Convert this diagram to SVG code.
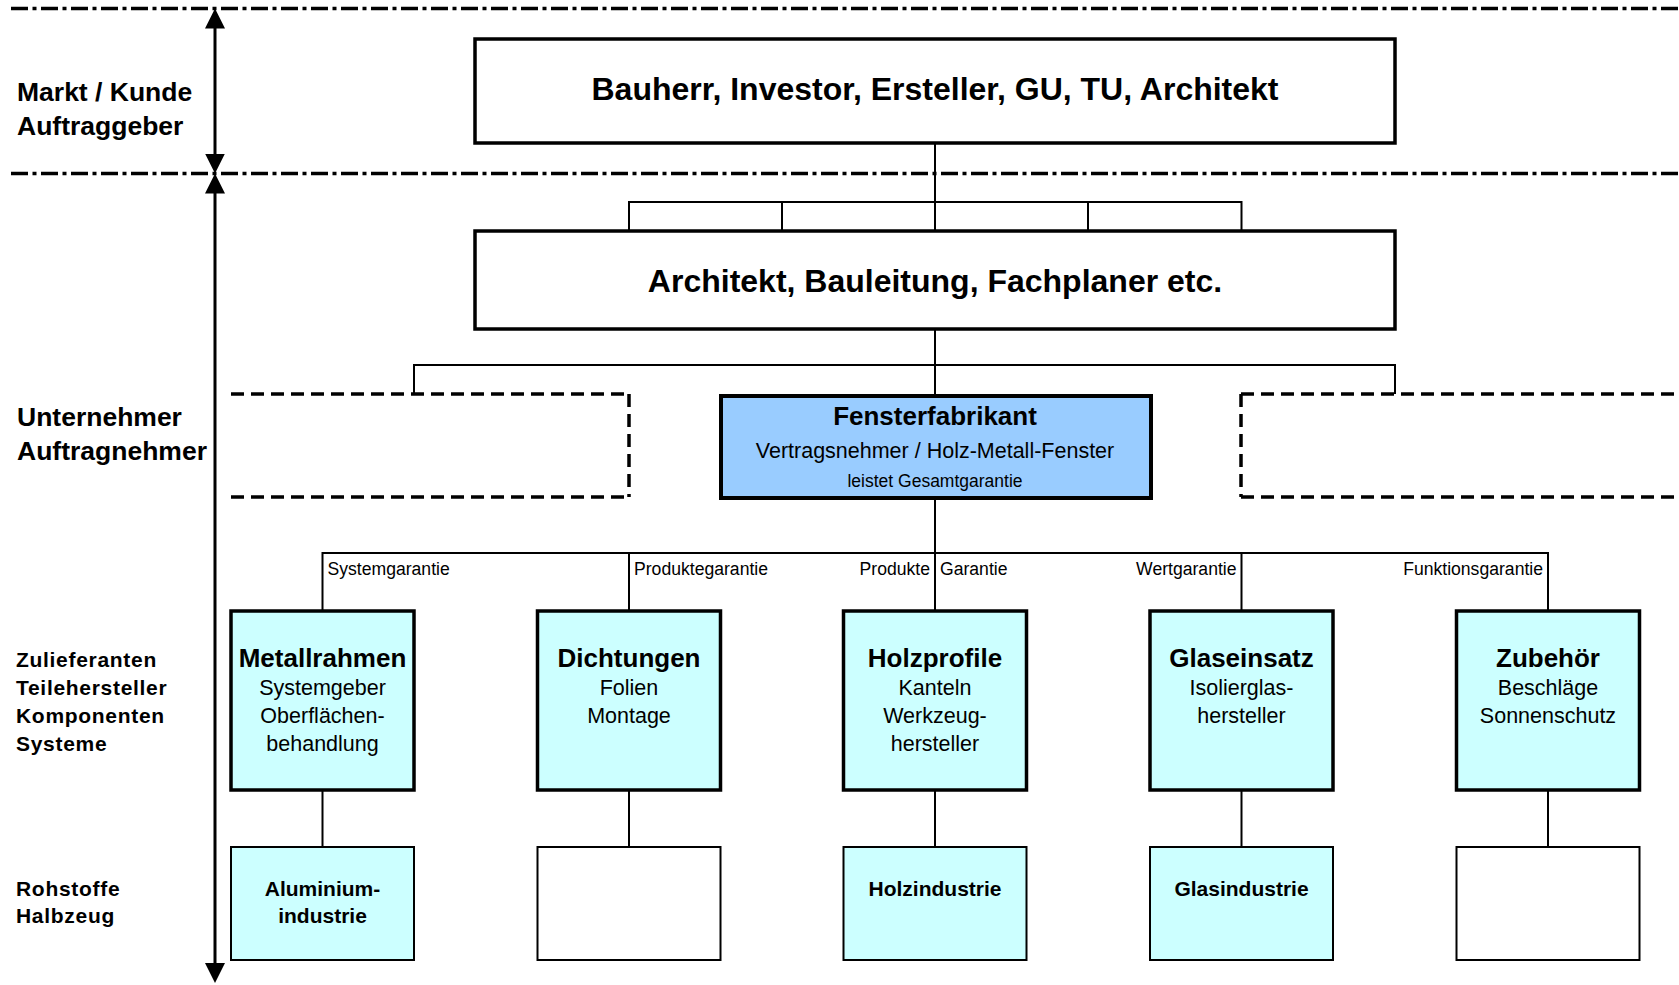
<svg xmlns="http://www.w3.org/2000/svg" width="1679" height="985" viewBox="0 0 1679 985">
<style>
text{font-family:"Liberation Sans",Arial,sans-serif;fill:#000}
.big{font-size:32px;font-weight:bold;text-anchor:middle}
.side{font-size:26.5px;font-weight:bold}
.side2{font-size:21px;font-weight:bold;letter-spacing:0.7px}
.ttl{font-size:26px;font-weight:bold;text-anchor:middle}
.sub{font-size:21.5px;text-anchor:middle}
.raw{font-size:21px;font-weight:bold;text-anchor:middle}
.lbl{font-size:17.6px}
.end{text-anchor:end}
.box{fill:#fff;stroke:#000;stroke-width:3.5}
.fab{fill:#99CCFF;stroke:#000;stroke-width:4}
.sup{fill:#CCFFFF;stroke:#000;stroke-width:3.5}
.rawc{fill:#CCFFFF;stroke:#000;stroke-width:2}
.raww{fill:#fff;stroke:#000;stroke-width:2}
.dashbox{fill:none;stroke:#000;stroke-width:3.5;stroke-dasharray:13 7}
.dashdot{fill:none;stroke:#000;stroke-width:3.5;stroke-dasharray:17 4.5 4 4.5}
.conn{fill:none;stroke:#000;stroke-width:2}
.axis{fill:none;stroke:#000;stroke-width:3;marker-start:url(#ah);marker-end:url(#ah)}
</style>
<defs>
<marker id="ah" markerUnits="userSpaceOnUse" markerWidth="20" markerHeight="20" refX="10" refY="10" orient="auto-start-reverse" viewBox="0 0 20 20">
<path d="M0,0 L20,10 L0,20 Z" fill="#000"/>
</marker>
</defs>
<rect width="1679" height="985" fill="#fff"/>

<g id="separators">
<line class="dashdot" x1="11" y1="8.5" x2="1679" y2="8.5"/>
<line class="dashdot" x1="11" y1="173.5" x2="1679" y2="173.5"/>
</g>

<g id="axis">
<line class="axis" x1="215" y1="18.5" x2="215" y2="163.5"/>
<line class="axis" x1="215" y1="183.5" x2="215" y2="973"/>
</g>

<g id="side-labels">
<text class="side" x="17" y="101">Markt / Kunde</text>
<text class="side" x="17" y="135">Auftraggeber</text>
<text class="side" x="17" y="426">Unternehmer</text>
<text class="side" x="17" y="460">Auftragnehmer</text>
<text class="side2" x="16" y="667">Zulieferanten</text>
<text class="side2" x="16" y="695">Teilehersteller</text>
<text class="side2" x="16" y="723">Komponenten</text>
<text class="side2" x="16" y="751">Systeme</text>
<text class="side2" x="16" y="896">Rohstoffe</text>
<text class="side2" x="16" y="923">Halbzeug</text>
</g>

<g id="connectors">
<path class="conn" d="M935,143 V231 M629,231 V202 H1241.5 V231 M782,202 V231 M1088,202 V231"/>
<path class="conn" d="M935,329 V396 M414,394 V365 H1395 V394"/>
<path class="conn" d="M935,498 V611 M322.5,611 V553 H1548 V611 M629,553 V611 M1241.5,553 V611"/>
<path class="conn" d="M322.5,790 V847 M629,790 V847 M935,790 V847 M1241.5,790 V847 M1548,790 V847"/>
<text class="lbl" x="327.5" y="575">Systemgarantie</text>
<text class="lbl" x="634" y="575">Produktegarantie</text>
<text class="lbl end" x="930" y="575">Produkte</text>
<text class="lbl" x="940" y="575">Garantie</text>
<text class="lbl end" x="1236.5" y="575">Wertgarantie</text>
<text class="lbl end" x="1543" y="575">Funktionsgarantie</text>
</g>

<g id="bauherr">
<rect class="box" x="475" y="39" width="920" height="104"/>
<text class="big" x="935" y="100">Bauherr, Investor, Ersteller, GU, TU, Architekt</text>
</g>

<g id="architekt">
<rect class="box" x="475" y="231" width="920" height="98"/>
<text class="big" x="935" y="292">Architekt, Bauleitung, Fachplaner etc.</text>
</g>

<g id="unternehmer-links">
<path class="dashbox" d="M231,394 H629"/>
<path class="dashbox" d="M629,394 V497"/>
<path class="dashbox" d="M231,497 H629"/>
</g>

<g id="unternehmer-rechts">
<path class="dashbox" d="M1241,394 H1679"/>
<path class="dashbox" d="M1241,394 V497"/>
<path class="dashbox" d="M1241,497 H1679"/>
</g>

<g id="fensterfabrikant">
<rect class="fab" x="721" y="396" width="430" height="102"/>
<text class="ttl" x="935" y="425">Fensterfabrikant</text>
<text class="sub" x="935" y="458">Vertragsnehmer / Holz-Metall-Fenster</text>
<text x="935" y="487" style="font-size:17.5px;text-anchor:middle">leistet Gesamtgarantie</text>
</g>

<g id="metallrahmen">
<rect class="sup" x="231" y="611" width="183" height="179"/>
<text class="ttl" x="322.5" y="667">Metallrahmen</text>
<text class="sub" x="322.5" y="695">Systemgeber</text>
<text class="sub" x="322.5" y="723">Oberflächen-</text>
<text class="sub" x="322.5" y="751">behandlung</text>
</g>

<g id="dichtungen">
<rect class="sup" x="537.5" y="611" width="183" height="179"/>
<text class="ttl" x="629" y="667">Dichtungen</text>
<text class="sub" x="629" y="695">Folien</text>
<text class="sub" x="629" y="723">Montage</text>
</g>

<g id="holzprofile">
<rect class="sup" x="843.5" y="611" width="183" height="179"/>
<text class="ttl" x="935" y="667">Holzprofile</text>
<text class="sub" x="935" y="695">Kanteln</text>
<text class="sub" x="935" y="723">Werkzeug-</text>
<text class="sub" x="935" y="751">hersteller</text>
</g>

<g id="glaseinsatz">
<rect class="sup" x="1150" y="611" width="183" height="179"/>
<text class="ttl" x="1241.5" y="667">Glaseinsatz</text>
<text class="sub" x="1241.5" y="695">Isolierglas-</text>
<text class="sub" x="1241.5" y="723">hersteller</text>
</g>

<g id="zubehoer">
<rect class="sup" x="1456.5" y="611" width="183" height="179"/>
<text class="ttl" x="1548" y="667">Zubehör</text>
<text class="sub" x="1548" y="695">Beschläge</text>
<text class="sub" x="1548" y="723">Sonnenschutz</text>
</g>

<g id="aluminiumindustrie">
<rect class="rawc" x="231" y="847" width="183" height="113"/>
<text class="raw" x="322.5" y="896">Aluminium-</text>
<text class="raw" x="322.5" y="923">industrie</text>
</g>

<g id="rohstoff-dichtungen">
<rect class="raww" x="537.5" y="847" width="183" height="113"/>
</g>

<g id="holzindustrie">
<rect class="rawc" x="843.5" y="847" width="183" height="113"/>
<text class="raw" x="935" y="896">Holzindustrie</text>
</g>

<g id="glasindustrie">
<rect class="rawc" x="1150" y="847" width="183" height="113"/>
<text class="raw" x="1241.5" y="896">Glasindustrie</text>
</g>

<g id="rohstoff-zubehoer">
<rect class="raww" x="1456.5" y="847" width="183" height="113"/>
</g>
</svg>
